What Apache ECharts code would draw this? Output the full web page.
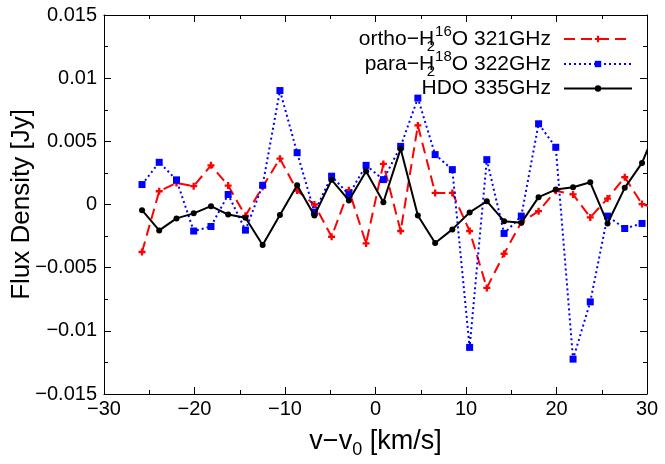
<!DOCTYPE html>
<html>
<head>
<meta charset="utf-8">
<script src="https://cdn.jsdelivr.net/npm/echarts@6/dist/echarts.min.js"></script>
<style>html,body{margin:0;padding:0;background:#fff}#c{width:665px;height:464px}</style>
</head>
<body>
<div id="c"></div>
<script>
// velocity channels (km/s), last one lies beyond the axis and is clipped
const velocity = [-25.80,-23.90,-21.99,-20.09,-18.18,-16.28,-14.37,-12.47,-10.56,-8.66,-6.75,-4.85,-2.94,-1.04,0.87,2.78,4.68,6.59,8.49,10.40,12.30,14.21,16.11,18.02,19.92,21.83,23.73,25.64,27.54,29.45,31.35];
const orthoH2O16 = [-0.00376,0.00105,0.0017,0.00145,0.0031,0.0015,-0.0009,0.0014,0.00363,0.0011,0.0,-0.00255,0.00113,-0.00308,0.00321,-0.0021,0.00626,0.00092,0.00092,-0.0021,-0.0066,-0.0039,-0.0014,-0.00053,0.00108,0.0008,-0.00102,0.00047,0.00216,0.00003,-0.0004];
const paraH2O18 = [0.00158,0.00334,0.00195,-0.0021,-0.00174,0.00079,-0.00203,0.00152,0.00902,0.0041,-0.0006,0.00224,0.00079,0.0031,0.00197,0.0046,0.00842,0.00395,0.00276,-0.01131,0.00355,-0.00229,-0.00092,0.00639,0.00453,-0.01224,-0.00771,-0.00092,-0.0019,-0.0015];
const hdo = [-0.00045,-0.00205,-0.0011,-0.0007,-0.00013,-0.0008,-0.00105,-0.00321,-0.00084,0.00152,-0.00087,0.00195,0.00032,0.00263,0.00018,0.00442,-0.00087,-0.00305,-0.00197,-0.00063,0.00026,-0.00132,-0.00145,0.00058,0.00118,0.00137,0.00176,-0.0015,0.00132,0.00329,0.0066];
const seriesNames = ['ortho-H2-16O 321GHz','para-H2-18O 322GHz','HDO 335GHz'];
const legendLabels = [
  '{a|ortho−H}{sub|2}{sup|16}{a|O 321GHz}',
  '{a|para−H}{sub|2}{sup|18}{a|O 322GHz}',
  '{a|HDO 335GHz}'
];
const xTickLabels = {'-30':'−30','-20':'−20','-10':'−10','0':'0','10':'10','20':'20','30':'30'};
const yTickLabels = ['−0.015','−0.01','−0.005','0','0.005','0.01','0.015'];

const FONT = 'Liberation Sans, Arial, sans-serif';
const pairs = (ys) => ys.map((y, i) => [velocity[i], y]);

const richLegend = {
  a: {fontSize: 21, fontFamily: FONT, color: '#000', lineHeight: 30},
  sub: {fontSize: 15, fontFamily: FONT, color: '#000', lineHeight: 15, verticalAlign: 'bottom', width: 1},
  sup: {fontSize: 15, fontFamily: FONT, color: '#000', lineHeight: 15, verticalAlign: 'top'}
};
const legendTops = [19, 44, 73];
const legends = seriesNames.map((n, i) => ({
  data: [n],
  right: 27,
  top: legendTops[i],
  align: 'right',
  itemWidth: 68,
  itemHeight: 8,
  itemGap: 13,
  selectedMode: false,
  formatter: () => legendLabels[i],
  textStyle: {rich: richLegend, fontFamily: FONT, fontSize: 21, color: '#000', padding: [0, 8, 0, 0]}
}));

const axisCommon = {
  axisLine: {show: true, onZero: false, lineStyle: {color: '#000', width: 1}},
  axisTick: {show: true, inside: true, length: 7, lineStyle: {color: '#000'}},
  minorTick: {show: true, splitNumber: 2, length: 4, lineStyle: {color: '#000'}},
  splitLine: {show: false}
};

const chart = echarts.init(document.getElementById('c'), null, {renderer: 'canvas'});
chart.setOption({
  animation: false,
  backgroundColor: '#fff',
  grid: {left: 104, top: 15, right: 18, bottom: 70, containLabel: false, outerBoundsMode: 'none'},
  legend: legends,
  xAxis: [
    Object.assign({}, axisCommon, {
      type: 'value', min: -30, max: 30, interval: 10, position: 'bottom',
      axisLabel: {show: true, margin: 5, fontSize: 20, fontFamily: FONT, color: '#000',
        formatter: v => xTickLabels[String(Math.round(v))]},
      name: '{a|v−v}{sub|0}{a| [km/s]}',
      nameLocation: 'middle', nameGap: 31, nameMoveOverlap: false,
      nameTextStyle: {rich: {
        a: {fontSize: 27, fontFamily: FONT, color: '#000', lineHeight: 34},
        sub: {fontSize: 18, fontFamily: FONT, color: '#000', lineHeight: 18, verticalAlign: 'bottom'}
      }}
    }),
    Object.assign({}, axisCommon, {
      type: 'value', min: -30, max: 30, interval: 10, position: 'top',
      axisLabel: {show: false}
    })
  ],
  yAxis: [
    Object.assign({}, axisCommon, {
      type: 'value', min: -0.015, max: 0.015, interval: 0.005, position: 'left',
      axisLabel: {show: true, margin: 7, fontSize: 20, fontFamily: FONT, color: '#000',
        formatter: v => yTickLabels[Math.round((v + 0.015) / 0.005)]},
      name: 'Flux Density [Jy]',
      nameLocation: 'middle', nameGap: 69, nameMoveOverlap: false,
      nameTextStyle: {fontSize: 26, fontFamily: FONT, color: '#000'}
    }),
    Object.assign({}, axisCommon, {
      type: 'value', min: -0.015, max: 0.015, interval: 0.005, position: 'right',
      axisLabel: {show: false}
    })
  ],
  series: [
    {
      name: seriesNames[0], type: 'line', data: pairs(orthoH2O16), clip: true,
      symbol: 'path://M2,0H4V2H6V4H4V6H2V4H0V2H2Z', symbolSize: 7,
      itemStyle: {color: '#ff0000'},
      lineStyle: {color: '#ff0000', width: 2, type: [11, 6]},
      z: 3
    },
    {
      name: seriesNames[1], type: 'line', data: pairs(paraH2O18), clip: true,
      symbol: 'rect', symbolSize: 7,
      itemStyle: {color: '#0000ff'},
      lineStyle: {color: '#0000ff', width: 2, type: [2, 3]},
      z: 4
    },
    {
      name: seriesNames[2], type: 'line', data: pairs(hdo), clip: true,
      symbol: 'circle', symbolSize: 6,
      itemStyle: {color: '#000'},
      lineStyle: {color: '#000', width: 2},
      z: 5
    }
  ]
});
</script>
</body>
</html>
